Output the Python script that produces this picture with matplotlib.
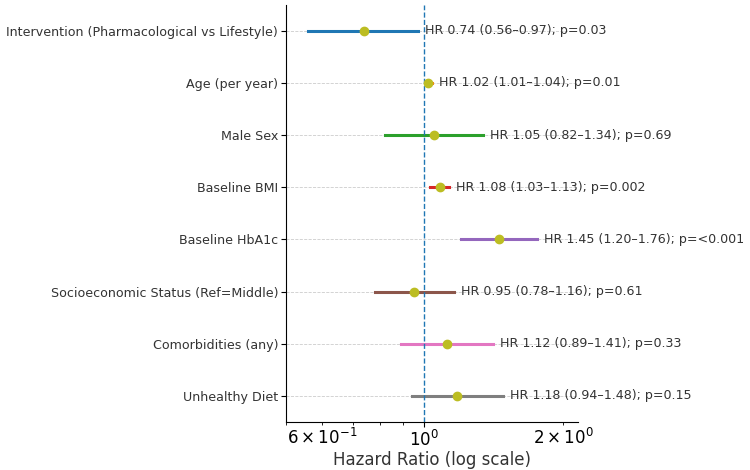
import matplotlib.pyplot as plt

# forest plot data
labels = ['Intervention (Pharmacological vs Lifestyle)', 'Age (per year)', 'Male Sex',
          'Baseline BMI', 'Baseline HbA1c', 'Socioeconomic Status (Ref=Middle)',
          'Comorbidities (any)', 'Unhealthy Diet']
hr = [0.74, 1.02, 1.05, 1.08, 1.45, 0.95, 1.12, 1.18]
lo = [0.56, 1.01, 0.82, 1.03, 1.20, 0.78, 0.89, 0.94]
hi = [0.97, 1.04, 1.34, 1.13, 1.76, 1.16, 1.41, 1.48]
pvals = ['0.03', '0.01', '0.69', '0.002', '<0.001', '0.61', '0.33', '0.15']
colors = ['tab:blue', 'tab:orange', 'tab:green', 'tab:red', 'tab:purple',
          'tab:brown', 'tab:pink', 'tab:gray']

fig, ax = plt.subplots(figsize=(7.5, 4.7), dpi=100)

for i in range(len(labels)):
    ax.plot([lo[i], hi[i]], [i, i], color=colors[i], lw=2.2, zorder=2)
    ax.plot(hr[i], i, 'o', color='tab:olive', ms=6, zorder=3)
    ax.annotate('HR %.2f (%.2f\u2013%.2f); p=%s' % (hr[i], lo[i], hi[i], pvals[i]),
                xy=(hi[i], i), xytext=(5, 0), textcoords='offset points',
                va='center', ha='left', fontsize=9.1, color='#333333')

ax.axvline(1, color='tab:blue', ls='--', lw=1)
ax.set_xscale('log')
ax.set_xlim(0.5, 2.15)
ax.set_ylim(len(labels) - 0.5, -0.5)
ax.set_yticks(range(len(labels)))
ax.set_yticklabels(labels, fontsize=9.1, color='#333333')
ax.tick_params(axis='y', pad=2)
ax.tick_params(axis='x', which='both', labelsize=12, pad=2)
ax.grid(axis='y', ls='--', lw=0.6, color='#cccccc', zorder=0)
ax.set_xlabel('Hazard Ratio (log scale)', fontsize=12, color='#333333', labelpad=1)
ax.spines['top'].set_visible(False)
ax.spines['right'].set_visible(False)

fig.subplots_adjust(left=0.381, right=0.77, top=0.99, bottom=0.102)
fig.savefig('out.png')
